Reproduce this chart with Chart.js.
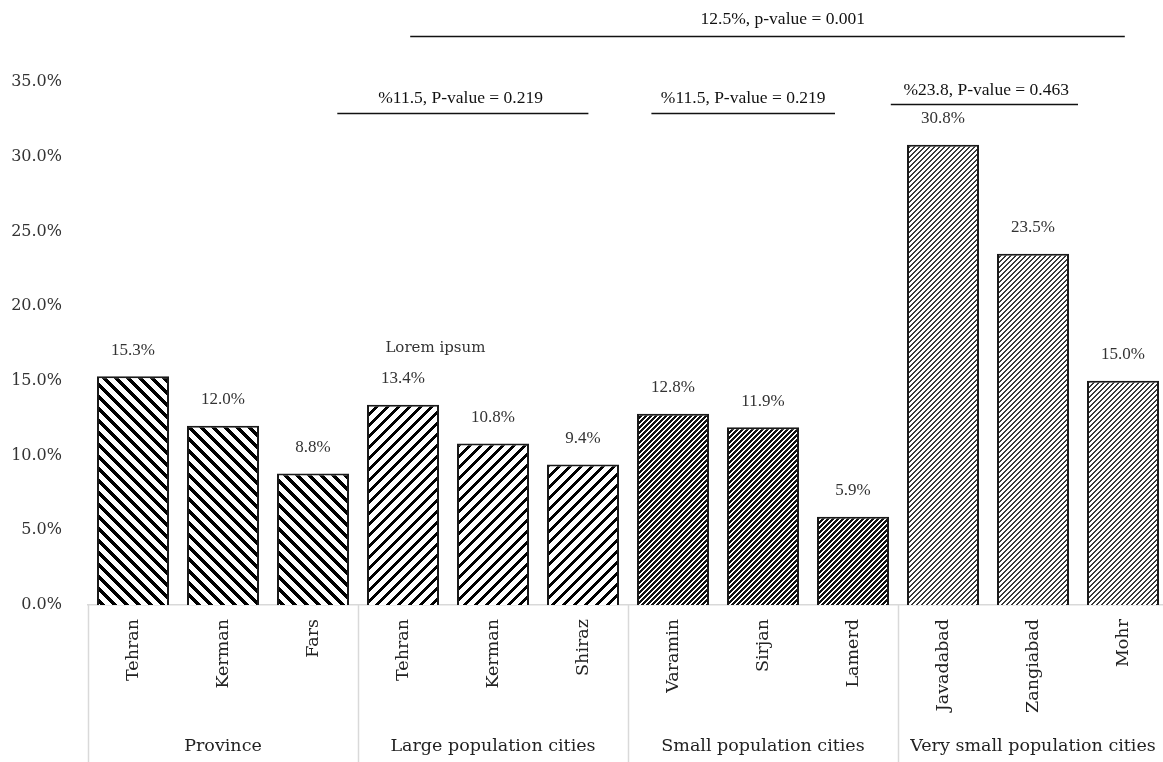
<!DOCTYPE html>
<html>
<head>
<meta charset="utf-8">
<script src="https://cdn.jsdelivr.net/npm/chart.js@4.4.1/dist/chart.umd.min.js"></script>
<style>
  html,body{margin:0;padding:0;background:#fff;overflow:hidden;}
  #wrap{width:1163px;height:762px;overflow:hidden;}
</style>
</head>
<body>
<div id="wrap"><canvas id="c" width="1168" height="762"></canvas></div>
<script>
// data
const cities = ["Tehran","Kerman","Fars","Tehran","Kerman","Shiraz","Varamin","Sirjan","Lamerd","Javadabad","Zangiabad","Mohr"];
const values = [15.3,12.0,8.8,13.4,10.8,9.4,12.8,11.9,5.9,30.8,23.5,15.0];
const groups = ["Province","Large population cities","Small population cities","Very small population cities"];
const groupOf = [0,0,0,1,1,1,2,2,2,3,3,3];
const yTicks = [0,5,10,15,20,25,30,35];

// comparison brackets: x in category index units, y in value units
const notes = [
  {text:"12.5%, p-value = 0.001", from:3.08, to:11.02, line:38.1, mid:7.22, label:39.2},
  {text:"%11.5, P-value = 0.219", from:2.27, to:5.06, line:32.95, mid:3.64, label:33.9},
  {text:"%11.5, P-value = 0.219", from:5.76, to:7.80, line:32.95, mid:6.78, label:33.9},
  {text:"%23.8, P-value = 0.463", from:8.42, to:10.50, line:33.56, mid:9.48, label:34.45}
];
const freeText = [{text:"Lorem ipsum", at:3.36, y:17.2}];

const SERIF = "'DejaVu Serif', serif";
const NOTE_FONT = "17.5px 'Liberation Serif', serif";

function stripes(period, w, dir, color){
  const cv = document.createElement("canvas");
  cv.width = period; cv.height = period;
  const g = cv.getContext("2d");
  const img = g.createImageData(period, period);
  const r = parseInt(color.slice(1,3),16), gg = parseInt(color.slice(3,5),16), b = parseInt(color.slice(5,7),16);
  for(let y=0;y<period;y++) for(let x=0;x<period;x++){
    const k = dir==="\\" ? ((x - y) % period + period) % period : (x + y) % period;
    const i = (y*period + x)*4;
    const on = k < w;
    img.data[i] = on ? r : 255; img.data[i+1] = on ? gg : 255; img.data[i+2] = on ? b : 255; img.data[i+3] = 255;
  }
  g.putImageData(img,0,0);
  return document.getElementById("c").getContext("2d").createPattern(cv,"repeat");
}

const fills = [
  stripes(12,5,"\\","#000000"),
  stripes(11,4,"/","#000000"),
  stripes(5,3,"/","#111111"),
  stripes(5,2,"/","#3a3a3a")
];

function idxPx(x, i){
  const p0 = x.getPixelForValue(0), p1 = x.getPixelForValue(1);
  return p0 + i*(p1-p0);
}

const extras = {
  id:"extras",
  afterDatasetsDraw(chart){
    const {ctx, scales:{x,y}, chartArea} = chart;
    ctx.save();
    ctx.textAlign = "center"; ctx.textBaseline = "middle";
    // value labels
    ctx.font = "17px 'Liberation Serif', serif"; ctx.fillStyle = "#333";
    values.forEach((v,i)=>{ ctx.fillText(v.toFixed(1)+"%", x.getPixelForValue(i), y.getPixelForValue(v) - 26); });
    // free text
    ctx.font = "15px " + SERIF;
    freeText.forEach(t=>{ ctx.fillText(t.text, idxPx(x,t.at), y.getPixelForValue(t.y)); });
    // brackets
    ctx.font = NOTE_FONT; ctx.fillStyle = "#111"; ctx.strokeStyle = "#111"; ctx.lineWidth = 1.6;
    notes.forEach(n=>{
      const yl = Math.round(y.getPixelForValue(n.line)) + 0.5;
      ctx.beginPath(); ctx.moveTo(idxPx(x,n.from), yl); ctx.lineTo(idxPx(x,n.to), yl); ctx.stroke();
      ctx.fillText(n.text, idxPx(x,n.mid), y.getPixelForValue(n.label));
    });
    // group boxes + labels
    ctx.strokeStyle = "#d9d9d9"; ctx.lineWidth = 1.5;
    const H = chart.height;
    let start = 0;
    groups.forEach((gname,gi)=>{
      const n = groupOf.filter(v=>v===gi).length;
      const left = idxPx(x, start - 0.5), right = idxPx(x, start + n - 0.5);
      ctx.beginPath(); ctx.moveTo(Math.round(left)+0.5, chartArea.bottom); ctx.lineTo(Math.round(left)+0.5, H); ctx.stroke();
      ctx.font = "17.5px " + SERIF; ctx.fillStyle = "#222";
      ctx.fillText(gname, (left+right)/2, H - 16);
      start += n;
    });
    ctx.restore();
  }
};

new Chart(document.getElementById("c"), {
  type:"bar",
  data:{labels:cities, datasets:[{
    data:values,
    backgroundColor: groupOf.map(g=>fills[g]),
    borderColor:"#1a1a1a", borderWidth:2,
    categoryPercentage:1, barPercentage:0.8
  }]},
  options:{
    responsive:false, animation:false, devicePixelRatio:1,
    layout:{padding:{top:82,left:0,right:0,bottom:0}},
    plugins:{legend:{display:false}, tooltip:{enabled:false}},
    scales:{
      x:{
        grid:{display:false},
        border:{color:"#d9d9d9", width:1.5},
        ticks:{minRotation:90, maxRotation:90, autoSkip:false, padding:6, color:"#222", font:{family:SERIF, size:17.5}},
        afterFit(s){ s.height = 157; }
      },
      y:{
        min:0, max:35,
        afterBuildTicks(s){ s.ticks = yTicks.map(v=>({value:v})); },
        grid:{display:false},
        border:{display:false},
        ticks:{padding:18, color:"#333", font:{family:SERIF, size:16}, callback:v=>Number(v).toFixed(1)+"%"},
        afterFit(s){ s.width = 88; }
      }
    }
  },
  plugins:[extras]
});
</script>
</body>
</html>
